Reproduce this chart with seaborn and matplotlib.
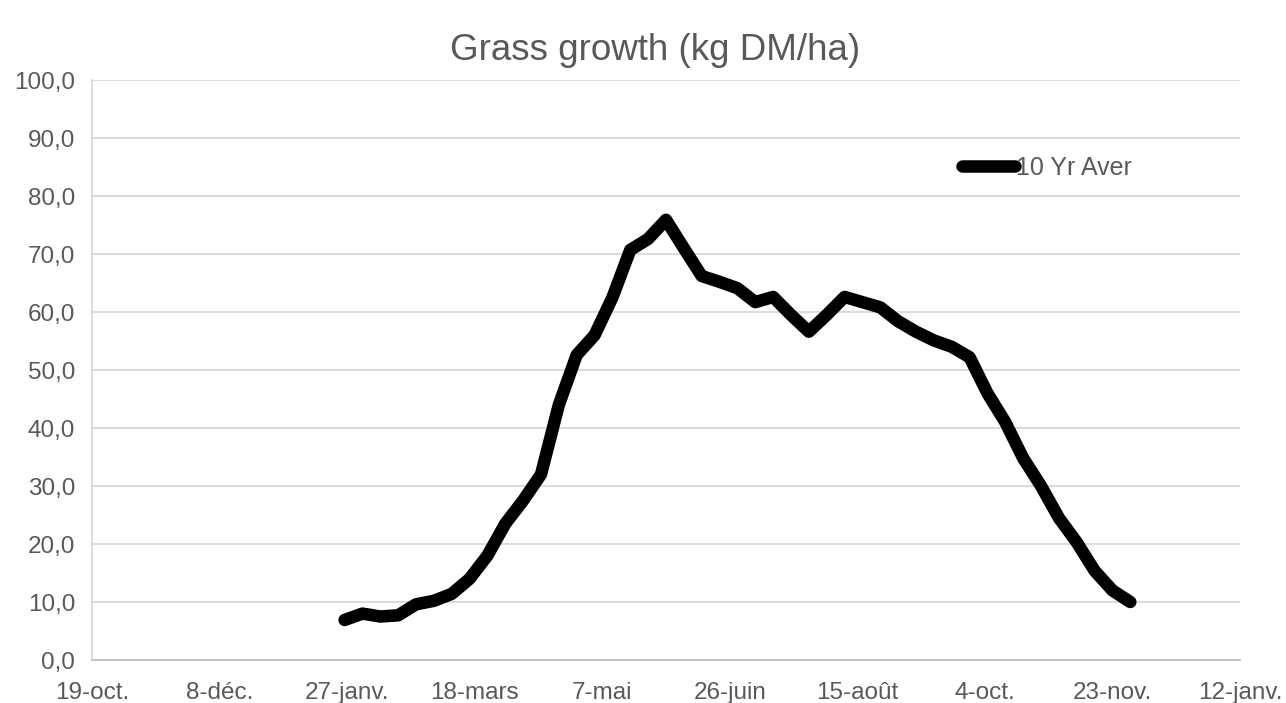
import matplotlib
matplotlib.use("Agg")
import matplotlib.pyplot as plt
import matplotlib.dates as mdates
import numpy as np
import pandas as pd
import seaborn as sns

# weekly 10-year average growth, first reading 26 Jan
start_date = "2019-01-26"
growth = [
    6.9, 8.0, 7.5, 7.7, 9.6, 10.2, 11.4, 14.0, 18.0, 23.5,
    27.5, 32.0, 44.0, 52.6, 56.0, 62.5, 70.7, 72.6, 75.9, 71.0,
    66.2, 65.2, 64.1, 61.7, 62.6, 59.5, 56.6, 59.5, 62.6, 61.7,
    60.8, 58.4, 56.6, 55.1, 54.0, 52.2, 46.0, 41.0, 34.8, 30.0,
    24.5, 20.3, 15.4, 12.0, 10.0,
]
series_name = "10 Yr Aver"
title = "Grass growth (kg DM/ha)"
axis_start = "2018-10-19"
axis_end = "2020-01-12"
fr_months = ["janv.", "févr.", "mars", "avr.", "mai", "juin",
             "juil.", "août", "sept.", "oct.", "nov.", "déc."]

df = pd.DataFrame({
    "date": pd.date_range(start_date, periods=len(growth), freq="7D"),
    "growth": growth,
})

sns.set_theme(style="whitegrid")
plt.rcParams["font.family"] = ["Liberation Sans", "DejaVu Sans"]
grey = "#595959"

fig, ax = plt.subplots(figsize=(12.86, 7.03), dpi=100)
fig.subplots_adjust(left=92 / 1286, right=1240 / 1286,
                    top=1 - 80 / 703, bottom=1 - 660 / 703)

sns.lineplot(data=df, x="date", y="growth", ax=ax, color="black",
             linewidth=9, label=series_name,
             solid_joinstyle="round", solid_capstyle="round")

x0 = pd.Timestamp(axis_start)
x1 = pd.Timestamp(axis_end)
ax.set_xlim(x0, x1)
ax.set_xticks(pd.date_range(x0, x1, freq="50D"))


def fr_date(val, pos=None):
    d = mdates.num2date(val)
    return f"{d.day}-{fr_months[d.month - 1]}"


ax.xaxis.set_major_formatter(plt.FuncFormatter(fr_date))
ax.set_ylim(0, 100)
ax.set_yticks(np.arange(0, 101, 10))
ax.yaxis.set_major_formatter(plt.FuncFormatter(lambda v, p: f"{v:.1f}".replace(".", ",")))

ax.grid(axis="x", visible=False)
ax.grid(axis="y", color="#d9d9d9", linewidth=1.3)
for side in ["top", "right"]:
    ax.spines[side].set_visible(False)
ax.spines["left"].set_color("#d9d9d9")
ax.spines["bottom"].set_color("#bfbfbf")
ax.spines["left"].set_linewidth(1.3)
ax.spines["bottom"].set_linewidth(1.3)
ax.tick_params(axis="both", length=0, labelsize=17.5, colors=grey)
ax.tick_params(axis="x", pad=16)
ax.tick_params(axis="y", pad=12)
ax.set_xlabel("")
ax.set_ylabel("")

fig.suptitle(title, x=0.509, y=1 - 51 / 703, va="center",
             fontsize=26.5, color=grey)

leg = ax.legend(loc="center left", bbox_to_anchor=(962 / 1286, 1 - 168 / 703),
                bbox_transform=fig.transFigure, frameon=False,
                fontsize=18, handlelength=2.1, handletextpad=0.05,
                borderpad=0, borderaxespad=0)
for t in leg.get_texts():
    t.set_color(grey)

fig.savefig("out.png", dpi=100)
plt.close(fig)
